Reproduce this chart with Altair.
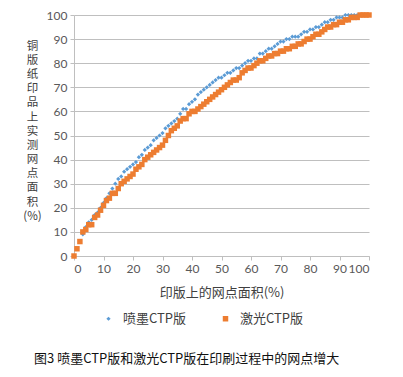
import altair as alt
import pandas as pd

# Patch area on the plate (%)
plate_area = list(range(101))

# Inkjet CTP plate (blue diamonds)
inkjet = [0, 3, 6, 9, 12, 14, 15, 17, 18, 20,
          22, 24, 26, 28, 30, 32, 33, 35, 36, 37,
          38, 39, 41, 42, 44, 45, 46, 48, 49, 50,
          51, 53, 54, 55, 56, 57, 59, 61, 61, 63,
          64, 65, 67, 68, 69, 70, 71, 72, 73, 74,
          74, 75, 76, 76, 77, 78, 78, 79, 80, 81,
          81, 82, 82, 84, 84, 85, 86, 86, 87, 88,
          89, 89, 90, 90, 91, 91, 91, 92, 93, 93,
          94, 94, 95, 95, 96, 97, 97, 98, 98, 99,
          99, 99, 100, 100, 100, 100, 100, 100, 100, 100, 100]

# Laser CTP plate (orange squares)
laser = [0, 3, 6, 10, 11, 13, 13, 16, 17, 19,
         21, 23, 24, 26, 26, 28, 30, 31, 32, 33,
         34, 36, 37, 38, 40, 41, 42, 43, 44, 45,
         46, 48, 50, 52, 53, 54, 56, 57, 57, 59,
         60, 60, 61, 62, 63, 64, 65, 66, 67, 68,
         69, 70, 71, 72, 73, 73, 74, 76, 77, 78,
         78, 79, 80, 81, 81, 82, 83, 83, 84, 84,
         85, 85, 86, 86, 87, 87, 88, 88, 89, 90,
         90, 91, 92, 92, 93, 94, 95, 95, 96, 96,
         97, 97, 98, 98, 99, 99, 99, 100, 100, 100, 100]

series_names = ["喷墨CTP版", "激光CTP版"]
series_colors = ["#5B9BD5", "#ED7D31"]
series_shapes = ["diamond", "square"]
series_sizes = [18, 30]

y_title_lines = ["铜", "版", "纸", "印", "品", "上", "实", "测", "网", "点", "面", "积", "(%)"]
x_title = "印版上的网点面积(%)"
caption = "图3  喷墨CTP版和激光CTP版在印刷过程中的网点增大"
ticks = [0, 10, 20, 30, 40, 50, 60, 70, 80, 90, 100]

rows = []
for name, vals in zip(series_names, [inkjet, laser]):
    for x, y in zip(plate_area, vals):
        rows.append({"x": x, "y": y, "s": name})
df = pd.DataFrame(rows)

CJK = "Noto Sans CJK SC"
NUM = "Lato"
GRID = "#bfbfbf"
TXT = "#404040"

points = alt.Chart(df).mark_point(filled=True, opacity=1).encode(
    x=alt.X("x:Q", scale=alt.Scale(domain=[0, 100], nice=False),
            axis=alt.Axis(values=ticks, grid=False, title=x_title,
                          titleY=30, titleBaseline="top", titleFont=CJK,
                          titleFontSize=13, titleFontWeight="normal", titleColor=TXT,
                          labelFont=NUM, labelFontSize=12, labelColor="#595959",
                          labelPadding=3, tickSize=4, tickColor=GRID, domainColor=GRID)),
    y=alt.Y("y:Q", scale=alt.Scale(domain=[0, 100], nice=False),
            axis=alt.Axis(values=ticks, grid=True, gridColor=GRID, title=y_title_lines,
                          titleAngle=0, titleX=-42, titleY=25, titleAlign="center",
                          titleBaseline="top", titleFont=CJK, titleFontSize=11.5,
                          titleLineHeight=14.2, titleFontWeight="normal", titleColor=TXT,
                          labelFont=NUM, labelFontSize=12, labelColor="#595959",
                          labelPadding=3, tickSize=4, tickColor=GRID, domainColor=GRID)),
    color=alt.Color("s:N", scale=alt.Scale(domain=series_names, range=series_colors),
                    title=None,
                    legend=alt.Legend(orient="none", legendX=28, legendY=297,
                                      direction="horizontal", columnPadding=32,
                                      labelFont=CJK, labelFontSize=13, labelColor=TXT,
                                      symbolSize=30, labelOffset=8)),
    shape=alt.Shape("s:N", scale=alt.Scale(domain=series_names, range=series_shapes),
                    title=None),
    size=alt.Size("s:N", scale=alt.Scale(domain=series_names, range=series_sizes),
                  legend=None),
)

cap = alt.Chart(pd.DataFrame({"t": [caption]})).mark_text(
    align="left", baseline="middle", font=CJK, fontSize=13, color="#111111"
).encode(x=alt.value(-40), y=alt.value(344), text="t:N")

chart = alt.layer(points, cap).properties(
    width=295, height=241,
    autosize=alt.AutoSizeParams(type="none"),
    padding={"left": 66, "top": 7, "right": 25, "bottom": 110},
).configure_view(stroke=None)

chart.save("out.html", embed_options={"renderer": "svg", "actions": False})
